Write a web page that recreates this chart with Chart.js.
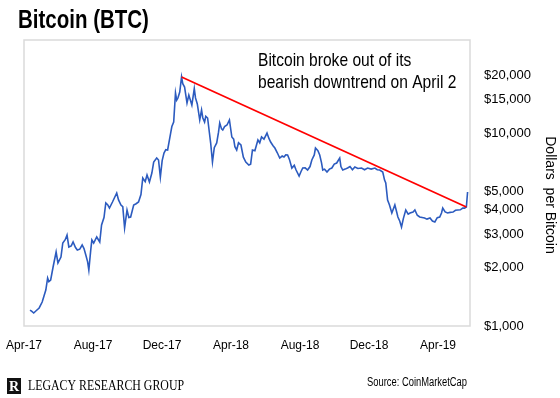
<!DOCTYPE html>
<html><head><meta charset="utf-8">
<script src="https://cdn.jsdelivr.net/npm/chart.js@4.4.1/dist/chart.umd.min.js"></script>
<style>html,body{margin:0;padding:0;background:#fff;}canvas{display:block;}</style>
</head><body>
<canvas id="c" width="560" height="398"></canvas>
<script>
const chartTitle = 'Bitcoin (BTC)';
const annotationLines = ['Bitcoin broke out of its', 'bearish downtrend on April 2'];
const sourceText = 'Source: CoinMarketCap';
const brandText = 'LEGACY RESEARCH GROUP';
const yAxisTitle = 'Dollars  per Bitcoin';
const xStartDate = '2017-04-01';
const xEndDate = '2019-04-07';
const xTickLabels = ['Apr-17', 'Aug-17', 'Dec-17', 'Apr-18', 'Aug-18', 'Dec-18', 'Apr-19'];
const yTickValues = [1000, 2000, 3000, 4000, 5000, 10000, 15000, 20000];
const yMin = 1000;
const yMax = 30340;

const btcDates = [
'2017-04-11','2017-04-14','2017-04-17','2017-04-21','2017-04-26','2017-05-01','2017-05-04','2017-05-07','2017-05-10','2017-05-12','2017-05-15','2017-05-19','2017-05-24','2017-05-27',
'2017-06-01','2017-06-04','2017-06-08','2017-06-11','2017-06-14','2017-06-18','2017-06-21','2017-06-25','2017-06-28','2017-07-02','2017-07-06','2017-07-09','2017-07-12','2017-07-15','2017-07-17','2017-07-20','2017-07-22',
'2017-07-25','2017-07-30','2017-08-04','2017-08-07','2017-08-11','2017-08-14','2017-08-17','2017-08-20','2017-08-25','2017-09-01','2017-09-04','2017-09-08','2017-09-11','2017-09-14',
'2017-09-18','2017-09-21','2017-09-24','2017-09-29','2017-10-03','2017-10-07','2017-10-11','2017-10-14','2017-10-18','2017-10-21','2017-10-25','2017-10-29','2017-11-01','2017-11-06','2017-11-09',
'2017-11-12','2017-11-15','2017-11-18','2017-11-21','2017-11-24','2017-11-29','2017-12-01','2017-12-04','2017-12-07','2017-12-09','2017-12-11','2017-12-14','2017-12-17','2017-12-19','2017-12-22',
'2017-12-26','2017-12-29','2018-01-03','2018-01-07','2018-01-09','2018-01-12','2018-01-16','2018-01-19','2018-01-21','2018-01-24','2018-01-26','2018-01-29','2018-02-01','2018-02-03',
'2018-02-06','2018-02-09','2018-02-13','2018-02-16','2018-02-18','2018-02-21','2018-02-23','2018-02-26','2018-03-02','2018-03-06','2018-03-10','2018-03-13','2018-03-15','2018-03-18','2018-03-21','2018-03-25','2018-03-29','2018-04-02',
'2018-04-07','2018-04-10','2018-04-13','2018-04-17','2018-04-22','2018-04-25','2018-04-28','2018-05-02','2018-05-07','2018-05-10','2018-05-13','2018-05-17','2018-05-20','2018-05-24','2018-05-28','2018-06-01','2018-06-04','2018-06-07','2018-06-10',
'2018-06-13','2018-06-17','2018-06-21','2018-06-24','2018-06-29','2018-07-02','2018-07-05','2018-07-09','2018-07-13','2018-07-17','2018-07-20','2018-07-24','2018-07-26','2018-07-30','2018-08-02','2018-08-05','2018-08-07','2018-08-10','2018-08-14',
'2018-08-18','2018-08-22','2018-08-26','2018-08-30','2018-09-04','2018-09-06','2018-09-09','2018-09-13','2018-09-17','2018-09-21','2018-09-25','2018-09-29','2018-10-04','2018-10-10','2018-10-15','2018-10-20','2018-10-26','2018-11-01','2018-11-05','2018-11-09',
'2018-11-14','2018-11-17','2018-11-19','2018-11-22','2018-11-25','2018-11-29','2018-12-04','2018-12-07','2018-12-09','2018-12-12','2018-12-15','2018-12-18','2018-12-22','2018-12-26','2018-12-29','2019-01-03','2019-01-06','2019-01-10',
'2019-01-14','2019-01-18','2019-01-22','2019-01-26','2019-01-31','2019-02-04','2019-02-08','2019-02-12','2019-02-16','2019-02-19','2019-02-21','2019-02-25','2019-03-01','2019-03-05','2019-03-10','2019-03-14','2019-03-18','2019-03-22','2019-03-26','2019-03-29',
'2019-04-01','2019-04-03'
];
const btcPrices = [
1210,1190,1168,1200,1240,1331,1430,1536,1773,1700,1731,2022,2418,2121,
2278,2692,2800,2962,2567,2600,2724,2550,2476,2500,2629,2520,2333,2150,1950,2450,2790,
2692,2892,2724,3337,3650,4338,4250,4087,4390,4889,4500,4237,4150,3220,
3990,3650,3671,4237,4300,4390,4800,5846,5600,6059,5574,6200,7074,7420,7245,
5916,7200,7879,8200,8166,10000,10800,11400,16120,14800,15180,16310,19510,18000,17310,
14300,15730,13970,17000,15200,14140,11680,13160,12000,11400,12200,11960,10000,8900,
7074,8400,8878,10100,11270,10500,10360,10800,11000,11680,9535,9300,8500,8166,8900,8668,7500,7074,
6826,6900,8166,8100,9199,8900,9535,9300,10000,9400,8983,8600,8362,7900,7420,7600,7508,7700,7691,
7300,6586,6800,6431,5988,6300,6586,6600,6431,6700,7245,7700,8362,8100,7691,7000,6431,6500,6281,
6500,6586,6900,6992,7420,6700,6431,6500,6586,6700,6450,6664,6550,6586,6450,6586,6500,6586,6450,6431,
6281,5700,5507,4496,4250,3851,4237,3900,3671,3500,3258,3600,3990,3800,3851,3900,3990,3750,
3671,3650,3627,3580,3627,3500,3458,3640,3671,3850,4087,3900,3851,3880,3896,3980,3990,4000,4087,4080,
4136,4948
];
const trendDates = ['2017-12-17', '2019-04-01'];
const trendPrices = [19510, 4136];

const DAY = 86400000;
function toUTC(s) {
  const p = s.split('-').map(Number);
  return Date.UTC(p[0], p[1] - 1, p[2]);
}
function dayIndex(s) { return (toUTC(s) - toUTC(xStartDate)) / DAY; }
const btcPoints = btcDates.map((d, i) => ({ x: dayIndex(d), y: btcPrices[i] }));
const trendPoints = trendDates.map((d, i) => ({ x: dayIndex(d), y: trendPrices[i] }));

const SANS = "'Liberation Sans',Arial,sans-serif";
const SERIF = "'Liberation Serif','Times New Roman',serif";

function squishText(ctx, text, x, y, font, sx) {
  ctx.save();
  ctx.translate(x, y);
  ctx.scale(sx, 1);
  ctx.font = font;
  ctx.fillText(text, 0, 0);
  ctx.restore();
}

const decor = {
  id: 'decor',
  beforeDatasetsDraw(chart) {
    const { ctx, chartArea: a } = chart;
    ctx.save();
    ctx.strokeStyle = '#dadada';
    ctx.lineWidth = 1.5;
    ctx.strokeRect(a.left, a.top, a.right - a.left, a.bottom - a.top);
    ctx.restore();
  },
  afterDraw(chart) {
    const ctx = chart.ctx;
    ctx.save();
    ctx.fillStyle = '#000';
    ctx.textAlign = 'left';
    ctx.textBaseline = 'alphabetic';
    squishText(ctx, chartTitle, 18, 28, 'bold 25px ' + SANS, 0.82);
    squishText(ctx, annotationLines[0], 258, 66, '19px ' + SANS, 0.82);
    squishText(ctx, annotationLines[1], 258, 88, '19px ' + SANS, 0.82);
    squishText(ctx, sourceText, 367, 386, '12.5px ' + SANS, 0.75);
    // y axis title
    ctx.save();
    ctx.translate(550, 195);
    ctx.rotate(Math.PI / 2);
    ctx.textAlign = 'center';
    ctx.textBaseline = 'middle';
    ctx.font = '14px ' + SANS;
    ctx.fillText(yAxisTitle, 0, 0);
    ctx.restore();
    // brand logo
    ctx.fillStyle = '#111';
    ctx.fillRect(7, 378, 14, 16);
    ctx.fillStyle = '#fff';
    ctx.font = 'bold 14px ' + SERIF;
    ctx.textAlign = 'center';
    ctx.fillText('R', 14, 391);
    ctx.fillStyle = '#000';
    ctx.textAlign = 'left';
    squishText(ctx, brandText, 28, 390, '15px ' + SERIF, 0.79);
    ctx.restore();
  }
};

new Chart(document.getElementById('c'), {
  type: 'line',
  data: {
    datasets: [
      { label: 'Trend', data: trendPoints, borderColor: '#ff0000', borderWidth: 1.8, pointRadius: 0, tension: 0, xAxisID: 'x', yAxisID: 'y', order: 0 },
      { label: 'BTC', data: btcPoints, borderColor: '#2c5bbf', borderWidth: 1.6, pointRadius: 0, tension: 0, xAxisID: 'x', yAxisID: 'y', order: 1 }
    ]
  },
  options: {
    responsive: false,
    animation: false,
    events: [],
    layout: { padding: { top: 40, left: 24, right: 0, bottom: 44 } },
    plugins: { legend: { display: false }, tooltip: { enabled: false }, title: { display: false } },
    scales: {
      x: { type: 'linear', display: false, min: 0, max: dayIndex(xEndDate) },
      xl: {
        type: 'linear', position: 'bottom', min: 0, max: 6.464,
        grid: { display: false, drawTicks: false }, border: { display: false },
        afterBuildTicks: s => { s.ticks = xTickLabels.map((_, i) => ({ value: i })); },
        afterFit: s => { s.height = 28; s.paddingLeft = 0; s.paddingRight = 0; },
        ticks: { autoSkip: false, maxRotation: 0, padding: 12, color: '#000', font: { family: SANS, size: 12 }, callback: (v, i) => xTickLabels[i] }
      },
      y: {
        type: 'logarithmic', position: 'right', min: yMin, max: yMax,
        grid: { display: false, drawTicks: false }, border: { display: false },
        afterBuildTicks: s => { s.ticks = yTickValues.map(v => ({ value: v })); },
        afterFit: s => { s.width = 90; s.paddingTop = 0; s.paddingBottom = 0; },
        ticks: { autoSkip: false, padding: 14, color: '#000', font: { family: SANS, size: 13 }, callback: v => '$' + Number(v).toLocaleString('en-US') }
      }
    }
  },
  plugins: [decor]
});
</script>
</body></html>
